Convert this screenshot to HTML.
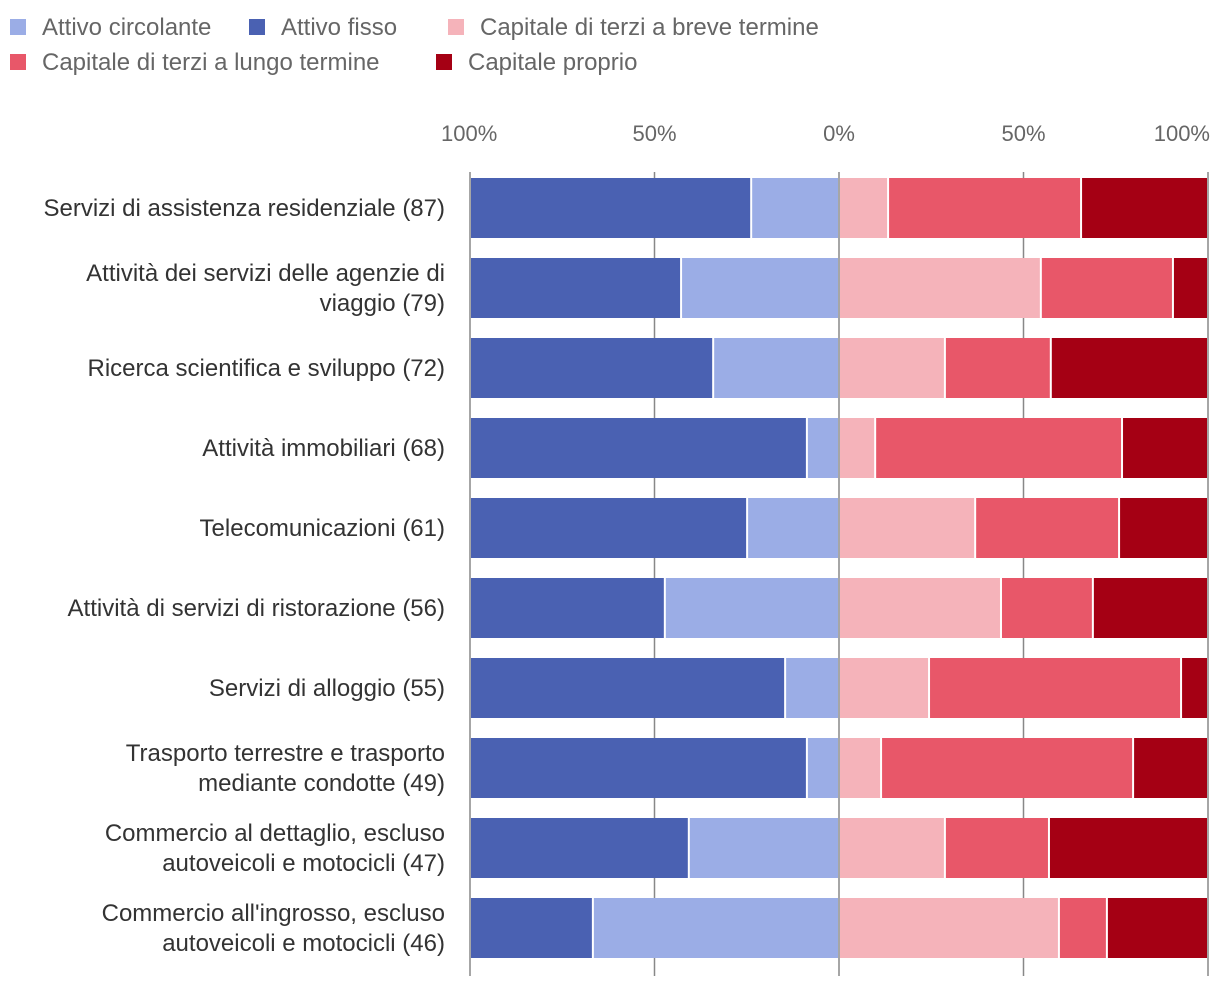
<!DOCTYPE html>
<html><head><meta charset="utf-8"><style>
body{margin:0;background:#fff;font-family:"Liberation Sans",sans-serif;}
svg{display:block}
</style></head><body>
<svg id="chart" width="1220" height="988" xmlns="http://www.w3.org/2000/svg"></svg>
<script>
const categories=["Servizi di assistenza residenziale (87)","Attività dei servizi delle agenzie di|viaggio (79)","Ricerca scientifica e sviluppo (72)","Attività immobiliari (68)","Telecomunicazioni (61)","Attività di servizi di ristorazione (56)","Servizi di alloggio (55)","Trasporto terrestre e trasporto|mediante condotte (49)","Commercio al dettaglio, escluso|autoveicoli e motocicli (47)","Commercio all'ingrosso, escluso|autoveicoli e motocicli (46)"];
const attivoCircolante=[23.8,42.8,34.1,8.7,24.9,47.2,14.6,8.7,40.7,66.7];
const attivoFisso=[76.2,57.2,65.9,91.3,75.1,52.8,85.4,91.3,59.3,33.3];
const breveTermine=[13.3,54.7,28.7,9.8,36.9,43.9,24.4,11.4,28.7,59.6];
const lungoTermine=[52.3,35.8,28.7,66.9,39.0,24.9,68.3,68.3,28.2,13.0];
const capitaleProprio=[34.4,9.5,42.6,23.3,24.1,31.2,7.3,20.3,43.1,27.4];
const tickLabels=["100%","50%","0%","50%","100%"];
const tickValues=[-100,-50,0,50,100];
const legendNames=["Attivo circolante","Attivo fisso","Capitale di terzi a breve termine","Capitale di terzi a lungo termine","Capitale proprio"];
const colors=["#9badE6","#4a61b2","#f5b3ba","#e85769","#a50014"];
const NS="http://www.w3.org/2000/svg";
const svg=document.getElementById('chart');
const x0=839,scale=3.69;
const xs=v=>x0+v*scale;
const yTop=i=>178+i*80;
function el(t,a,p){const e=document.createElementNS(NS,t);for(const k in a)e.setAttribute(k,a[k]);(p||svg).appendChild(e);return e;}
const lpos=[[22,27],[261,27],[460,27],[22,62],[448,62]];
legendNames.forEach((n,i)=>{
 const g=el('g',{});
 
 
 el('rect',{x:lpos[i][0]-12,y:lpos[i][1]-8,width:16,height:16,fill:colors[i]},g);
 const t=el('text',{x:lpos[i][0]+20,y:lpos[i][1]+8,'font-size':24,fill:'#666'},g);t.textContent=n;
});
tickValues.forEach((v,i)=>{
 const l=el('line',{x1:xs(v),x2:xs(v),y1:172,y2:976,stroke:'#888','stroke-width':1.5});
 
 
 const anchor=i===0?'start':(i===tickValues.length-1?'end':'middle');
 const tx=i===0?xs(v)-29:(i===tickValues.length-1?xs(v)+2:xs(v));
 const t=el('text',{x:tx,y:141,'font-size':22,fill:'#666','text-anchor':anchor});
 
 
 t.textContent=tickLabels[i];
});
function seg(a,b,y,c,name){
 const r=el('rect',{x:Math.min(xs(a),xs(b))+1,y:y,width:Math.max(0,Math.abs(xs(b)-xs(a))-2),height:60,fill:c});
 
 
}
categories.forEach((c,i)=>{
 const y=yTop(i);
 seg(-attivoCircolante[i],0,y,colors[0],'bar-attivo-circolante');
 seg(-100,-attivoCircolante[i],y,colors[1],'bar-attivo-fisso');
 const b=breveTermine[i],l=lungoTermine[i];
 seg(0,b,y,colors[2],'bar-breve-termine');
 seg(b,b+l,y,colors[3],'bar-lungo-termine');
 seg(b+l,100,y,colors[4],'bar-capitale-proprio');
 const lines=c.split('|');
 const t=el('text',{x:445,'font-size':24,fill:'#333','text-anchor':'end'});
 
 
 lines.forEach((s,k)=>{const ts=el('tspan',{x:445,y:y+30+8+(k-(lines.length-1)/2)*30},t);ts.textContent=s;});
});
</script>
</body></html>
